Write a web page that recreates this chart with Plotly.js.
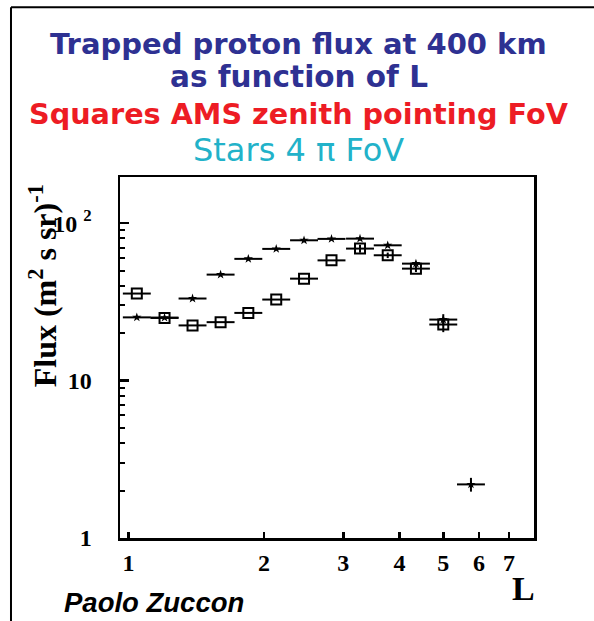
<!DOCTYPE html>
<html>
<head>
<meta charset="utf-8">
<script src="https://cdn.plot.ly/plotly-3.0.1.min.js"></script>
<style>
  html, body { margin: 0; padding: 0; background: #ffffff; }
  #chart { width: 594px; height: 621px; }
</style>
</head>
<body>
<div id="chart"></div>
<script>
// ---- Data ----
// Stars: 4 pi field of view
const starL    = [1.044, 1.203, 1.388, 1.602, 1.846, 2.129, 2.454, 2.824, 3.267, 3.764, 4.348, 5.000, 5.760];
const starFlux = [25.2, 25.1, 33.2, 47.1, 59.3, 68.6, 77.8, 79.4, 79.7, 72.3, 55.3, 24.4, 2.19];
const starErr  = [0, 0, 0, 0, 0, 0, 0, 0, 0, 0, 0, 2.0, 0.22];

// Squares: AMS zenith pointing field of view
const sqL    = [1.044, 1.203, 1.388, 1.602, 1.846, 2.129, 2.454, 2.824, 3.267, 3.764, 4.348, 5.000];
const sqFlux = [35.7, 25.0, 22.4, 23.5, 26.9, 32.7, 44.4, 58.0, 68.9, 62.5, 51.4, 22.7];
const sqErr  = [0, 0, 0, 0, 0, 0, 0, 0, 4.0, 2.5, 2.5, 2.4];

// Axis ticks
const xTickVals = [1, 2, 3, 4, 5, 6, 7];
const xTickText = ['1', '2', '3', '4', '5', '6', '7'];
const yTickVals = [1, 10, 100];
const yTickText = ['1', '10', '10 <sup>2</sup>'];
const yMinorVals = [2, 3, 4, 5, 6, 7, 8, 9, 20, 30, 40, 50, 60, 70, 80, 90, 200];

// Half width of each L bin (in log10 units)
const logBinHalfWidth = 0.031;

const errPlus  = arr => arr.map(v => v * (Math.pow(10, logBinHalfWidth) - 1));
const errMinus = arr => arr.map(v => v * (1 - Math.pow(10, -logBinHalfWidth)));

const serif = 'Liberation Serif, Times New Roman, serif';
const titleFont = 'DejaVu Sans, Verdana, sans-serif';
const yRange = [0, 2.293];

const traces = [
  {
    type: 'scatter', mode: 'markers', name: 'AMS zenith FoV',
    x: sqL, y: sqFlux,
    marker: { symbol: 'square-open', size: 10, color: '#000', line: { width: 2, color: '#000' } },
    error_x: { type: 'data', symmetric: false, array: errPlus(sqL), arrayminus: errMinus(sqL),
               color: '#000', thickness: 2, width: 0 },
    error_y: { type: 'data', array: sqErr, color: '#000', thickness: 2, width: 0 },
    showlegend: false, hoverinfo: 'x+y'
  },
  {
    type: 'scatter', mode: 'markers', name: '4 pi FoV',
    x: starL, y: starFlux,
    marker: { symbol: 'star', size: 7, color: '#000' },
    error_x: { type: 'data', symmetric: false, array: errPlus(starL), arrayminus: errMinus(starL),
               color: '#000', thickness: 2, width: 0 },
    error_y: { type: 'data', array: starErr, color: '#000', thickness: 2, width: 0 },
    showlegend: false, hoverinfo: 'x+y'
  },
  // empty trace so that the minor-tick overlay axis is drawn
  { type: 'scatter', mode: 'markers', x: [], y: [], xaxis: 'x', yaxis: 'y2', showlegend: false, hoverinfo: 'skip' }
];

const layout = {
  width: 594, height: 621,
  margin: { l: 120, r: 60, t: 177, b: 82.5, pad: 0 },
  paper_bgcolor: '#ffffff', plot_bgcolor: '#ffffff',
  showlegend: false,
  xaxis: {
    type: 'log', range: [Math.log10(0.958), Math.log10(7.95)],
    tickmode: 'array', tickvals: xTickVals, ticktext: xTickText,
    ticks: 'inside', ticklen: 6, tickwidth: 2.5, tickcolor: '#000',
    showline: true, linecolor: '#000', linewidth: 2.5, mirror: true,
    showgrid: false, zeroline: false,
    ticklabelstandoff: 2,
    tickfont: { family: serif, size: 24, color: '#000', weight: 'bold' }
  },
  yaxis: {
    type: 'log', range: yRange,
    tickmode: 'array', tickvals: yTickVals, ticktext: yTickText,
    ticks: 'inside', ticklen: 9, tickwidth: 2.5, tickcolor: '#000',
    showline: true, linecolor: '#000', linewidth: 2.5, mirror: true,
    showgrid: false, zeroline: false,
    ticklabelstandoff: 21,
    tickfont: { family: serif, size: 24, color: '#000', weight: 'bold' }
  },
  yaxis2: {
    type: 'log', range: yRange, overlaying: 'y', side: 'left',
    tickmode: 'array', tickvals: yMinorVals,
    ticks: 'inside', ticklen: 5, tickwidth: 2, tickcolor: '#000',
    showticklabels: false, showline: false, showgrid: false, zeroline: false
  },
  annotations: [
    { text: '<b>Trapped proton flux at 400 km</b>', xref: 'paper', yref: 'paper', x: 0.432, y: 1.368,
      xanchor: 'center', yanchor: 'middle', showarrow: false,
      font: { family: titleFont, size: 29, color: '#2E3192' } },
    { text: '<b>as function of L</b>', xref: 'paper', yref: 'paper', x: 0.432, y: 1.276,
      xanchor: 'center', yanchor: 'middle', showarrow: false,
      font: { family: titleFont, size: 29.5, color: '#2E3192' } },
    { text: '<b>Squares AMS zenith pointing FoV</b>', xref: 'paper', yref: 'paper', x: 0.432, y: 1.174,
      xanchor: 'center', yanchor: 'middle', showarrow: false,
      font: { family: titleFont, size: 28.7, color: '#ED1C24' } },
    { text: 'Stars 4 π FoV', xref: 'paper', yref: 'paper', x: 0.432, y: 1.075,
      xanchor: 'center', yanchor: 'middle', showarrow: false,
      font: { family: titleFont, size: 32, color: '#22B2C9' } },
    { text: '<b>Flux (m<sup>2</sup> s sr)<sup>-1</sup></b>', xref: 'paper', yref: 'paper', x: -0.186, y: 0.70,
      xanchor: 'center', yanchor: 'middle', textangle: -90, showarrow: false,
      font: { family: serif, size: 32, color: '#000' } },
    { text: '<b>L</b>', xref: 'paper', yref: 'paper', x: 0.975, y: -0.14,
      xanchor: 'center', yanchor: 'middle', showarrow: false,
      font: { family: serif, size: 34, color: '#000' } },
    { text: '<b><i>Paolo Zuccon</i></b>', xref: 'paper', yref: 'paper', x: -0.14, y: -0.178,
      xanchor: 'left', yanchor: 'middle', showarrow: false,
      font: { family: 'Liberation Sans, Arial, sans-serif', size: 27.5, color: '#000' } }
  ],
  shapes: [
    { type: 'line', xref: 'paper', yref: 'paper', x0: -0.2633, x1: -0.2633, y0: 1.4703, y1: -0.24,
      line: { color: '#000', width: 2 } },
    { type: 'line', xref: 'paper', yref: 'paper', x0: -0.2633, x1: 1.16, y0: 1.4703, y1: 1.4703,
      line: { color: '#000', width: 2 } }
  ]
};

Plotly.newPlot('chart', traces, layout, { displayModeBar: false, staticPlot: true });
</script>
</body>
</html>
